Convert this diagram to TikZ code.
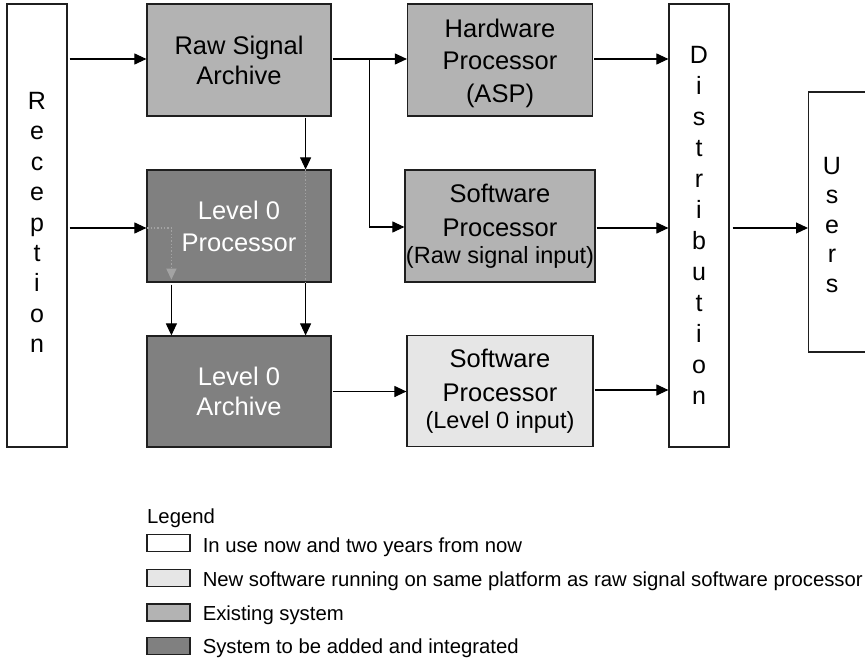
\documentclass[tikz,border=0pt]{standalone}
\usepackage{fontspec}
\setmainfont{Liberation Sans}
\usetikzlibrary{arrows.meta,calc}
\definecolor{existfill}{HTML}{B3B3B3}
\definecolor{addfill}{HTML}{808080}
\definecolor{newfill}{HTML}{E6E6E6}
\definecolor{edgecol}{HTML}{1F1F1F}
\definecolor{ghost}{HTML}{A3A3A3}

\begin{document}
\begin{tikzpicture}[x=1pt,y=-1pt,
  box/.style={draw=edgecol, line width=1.2pt, inner sep=0pt, align=center,
              font=\fontsize{25.5}{30}\selectfont},
  tall/.style={box, fill=white, minimum width=60pt, minimum height=443pt,
               font=\fontsize{25}{30.4}\selectfont},
  proc/.style={box, minimum width=184pt, minimum height=112pt},
  existing/.style={proc, fill=existfill},
  added/.style={proc, fill=addfill, text=white},
  newsw/.style={proc, fill=newfill},
  arr/.style={line width=1.1pt, -{Triangle[length=12pt,width=11pt]}},
  ghostline/.style={draw=ghost, dotted, line width=1.3pt},
  ghostarr/.style={ghostline, -{Triangle[length=11pt,width=10pt,fill=ghost]}},
  key/.style={draw=edgecol, line width=1.1pt, minimum width=43pt, minimum height=17pt, inner sep=0pt},
  keytext/.style={anchor=base west, inner sep=0pt, font=\fontsize{20.3}{24}\selectfont},
  caption/.style={align=center, inner sep=0pt},
]
\useasboundingbox (0,0) rectangle (865,661);

% main blocks
\node[tall] (rec) at (37,225.5) {};
\node[caption, font=\fontsize{25}{30.4}\selectfont] (rectext) at ($(rec)+(0,-3)$) {R\\e\\c\\e\\p\\t\\i\\o\\n};
\node[existing] (raw) at (239,60) {Raw Signal\\Archive};
\node[added, font=\fontsize{25.5}{32}\selectfont] (l0p) at (239,226) {Level 0\\Processor};
\node[added, minimum height=111pt] (l0a) at (239,391.5) {Level 0\\Archive};
\node[existing, minimum width=185pt] (hw) at (500,60) {};
\node[caption, font=\fontsize{25.5}{32.5}\selectfont] (hwtext) at ($(hw)+(0,3)$)
  {Hardware\\Processor\\(ASP)};
\node[existing, minimum width=190pt, font=\fontsize{25.5}{34}\selectfont] (swr) at (500,226)
  {Software\\Processor\\[-7pt]{\fontsize{23.5}{34}\selectfont(Raw signal input)}};
\node[newsw, minimum width=186pt, minimum height=111pt, font=\fontsize{25.5}{34}\selectfont] (swl) at (500,391)
  {Software\\Processor\\[-7pt]{\fontsize{23.5}{34}\selectfont(Level 0 input)}};
\node[tall, font=\fontsize{25}{31}\selectfont] (dist) at (699,225.5) {D\\i\\s\\t\\r\\i\\b\\u\\t\\i\\o\\n};
\node[box, fill=white, minimum width=80pt, minimum height=260pt, anchor=west] (users) at (808,222) {};
\node[caption, font=\fontsize{25}{29.5}\selectfont] (userstext)
  at ($(users.west)+(24,3)$) {U\\s\\e\\r\\s};

% data flow
\draw[arr] ($(rec.east |- raw.west)+(2,-1)$) -- ($(raw.west)+(0,-1)$);
\draw[arr] ($(rec.east |- l0p.west)+(2,2)$) -- ($(l0p.west)+(0,2)$);
\draw[ghostarr] ($(l0p.west)+(1,2)$) -| ($(l0p.south west)+(25,-3)$);
\draw[arr] ($(l0p.south west)+(25,2)$) -- ($(l0a.north west)+(25,0)$);

\draw[arr] ($(raw.south east)+(-26,1)$) -- ($(l0p.north east)+(-26,0)$);
\draw[ghostline] ($(l0p.north east)+(-26,0)$) -- ($(l0p.south east)+(-26,0)$);
\draw[arr] ($(l0p.south east)+(-26,0)$) -- ($(l0a.north east)+(-26,0)$);

\draw[arr] ($(raw.east)+(1,-1)$) -- ($(hw.west)+(0,-1)$);
\coordinate (split) at ($(raw.east)+(38,-1)$);
\draw[arr] (split) |- ($(swr.west)+(0,1)$);

\draw[arr] ($(hw.east)+(1,-1)$) -- ($(hw.east -| dist.west)+(0,-1)$);
\draw[arr] ($(swr.east)+(1,2)$) -- ($(swr.east -| dist.west)+(0,2)$);
\draw[arr] ($(l0a.east)+(1,0)$) -- (l0a.east -| swl.west);
\draw[arr] ($(swl.east)+(1,-1)$) -- ($(swl.east -| dist.west)+(0,-1)$);
\draw[arr] ($(dist.east |- swr.east)+(3,2)$) -- ($(users.west |- swr.east)+(0,2)$);

% legend
\node[keytext] (legend) at (147,523) {Legend};
\node[key, fill=white]    (k1) at (168.5,543) {};
\node[key, fill=newfill]  (k2) at (168.5,578) {};
\node[key, fill=existfill](k3) at (168.5,612.5) {};
\node[key, fill=addfill]  (k4) at (168.5,646) {};
\node[keytext] (t1) at ($(k1.east)+(12,9)$) {In use now and two years from now};
\node[keytext] (t2) at ($(k2.east)+(12,8)$) {New software running on same platform as raw signal software processor};
\node[keytext] (t3) at ($(k3.east)+(12,7.5)$) {Existing system};
\node[keytext] (t4) at ($(k4.east)+(12,7.5)$) {System to be added and integrated};
\end{tikzpicture}
\end{document}
